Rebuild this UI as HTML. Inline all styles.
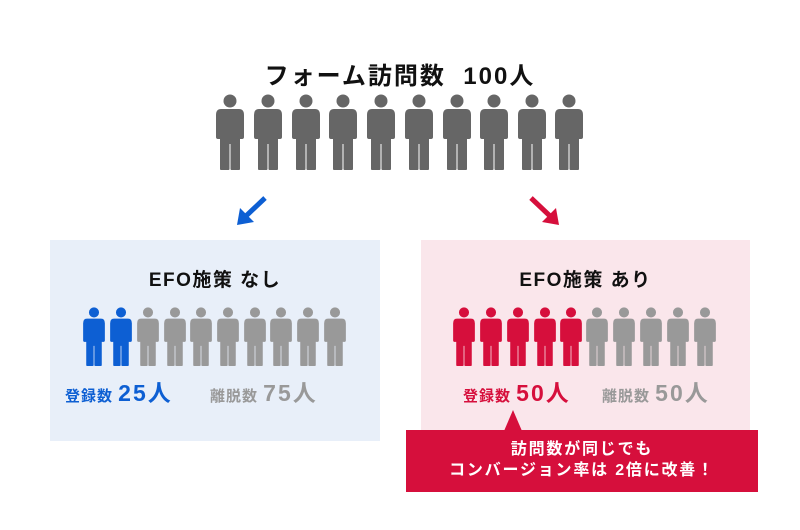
<!DOCTYPE html><html><head><meta charset="utf-8"><style>
body{margin:0;width:800px;height:530px;background:#fff;position:relative;overflow:hidden;font-family:"Liberation Sans","Noto Sans CJK JP",sans-serif;font-weight:bold}
.t{position:absolute;white-space:nowrap}
</style></head><body>
<svg width="800" height="530" style="position:absolute;left:0;top:0">
<defs>
<symbol id="p" viewBox="0 0 28 76">
<circle cx="14" cy="7" r="6.5"/>
<path d="M5 15 H23 Q28 15 28 21 V43 Q28 45 26 45 H24 V75 Q24 76 22.5 76 H16 Q14.5 76 14.5 75 V50 H13.5 V75 Q13.5 76 12 76 H5.5 Q4 76 4 75 V45 H2 Q0 45 0 43 V21 Q0 15 5 15Z"/>
</symbol>
<clipPath id="hl"><rect x="137" y="300" width="11" height="70"/></clipPath>
</defs>
<rect x="50" y="240" width="330" height="201" fill="#e8eff9"/>
<rect x="421" y="240" width="329" height="201" fill="#fae6eb"/>
<g fill="#666">
<use href="#p" x="216" y="94" width="28" height="76"/><use href="#p" x="254" y="94" width="28" height="76"/><use href="#p" x="292" y="94" width="28" height="76"/><use href="#p" x="329" y="94" width="28" height="76"/><use href="#p" x="367" y="94" width="28" height="76"/><use href="#p" x="405" y="94" width="28" height="76"/><use href="#p" x="443" y="94" width="28" height="76"/><use href="#p" x="480" y="94" width="28" height="76"/><use href="#p" x="518" y="94" width="28" height="76"/><use href="#p" x="555" y="94" width="28" height="76"/>
</g>
<g fill="#999">
<use href="#p" x="137" y="307" width="22" height="59"/><use href="#p" x="164" y="307" width="22" height="59"/><use href="#p" x="190" y="307" width="22" height="59"/><use href="#p" x="217" y="307" width="22" height="59"/><use href="#p" x="244" y="307" width="22" height="59"/><use href="#p" x="270" y="307" width="22" height="59"/><use href="#p" x="297" y="307" width="22" height="59"/><use href="#p" x="324" y="307" width="22" height="59"/>
<use href="#p" x="586" y="307" width="22" height="59"/><use href="#p" x="613" y="307" width="22" height="59"/><use href="#p" x="640" y="307" width="22" height="59"/><use href="#p" x="667" y="307" width="22" height="59"/><use href="#p" x="694" y="307" width="22" height="59"/>
</g>
<g fill="#0d5fd3">
<use href="#p" x="83" y="307" width="22" height="59"/><use href="#p" x="110" y="307" width="22" height="59"/><use href="#p" x="137" y="307" width="22" height="59" clip-path="url(#hl)"/>
</g>
<g fill="#d60f3c">
<use href="#p" x="453" y="307" width="22" height="59"/><use href="#p" x="480" y="307" width="22" height="59"/><use href="#p" x="507" y="307" width="22" height="59"/><use href="#p" x="534" y="307" width="22" height="59"/><use href="#p" x="560" y="307" width="22" height="59"/>
</g>
<g stroke="#0d5fd3" stroke-width="5" fill="#0d5fd3"><line x1="265" y1="198" x2="246" y2="216"/><polygon points="237,225 240,208 254,222" stroke="none"/></g>
<g stroke="#d60f3c" stroke-width="5" fill="#d60f3c"><line x1="531" y1="198" x2="550" y2="216"/><polygon points="559,225 556,208 542,222" stroke="none"/></g>
<polygon points="513,410 504,431 522,431" fill="#d60f3c"/>
<rect x="406" y="430" width="352" height="62" fill="#d60f3c"/>
</svg>
<div class="t" style="left:0;width:800px;text-align:center;top:56px;font-size:24px;color:#111;letter-spacing:2px">フォーム訪問数&nbsp;&nbsp;100人</div>
<div class="t" style="left:50px;width:330px;text-align:center;top:265px;font-size:19px;color:#111;letter-spacing:1.5px">EFO施策 なし</div>
<div class="t" style="left:421px;width:329px;text-align:center;top:265px;font-size:19px;color:#111;letter-spacing:1.5px">EFO施策 あり</div>
<div class="t" style="left:65px;top:374px;color:#0d5fd3;font-size:15px;letter-spacing:1px">登録数 <span style="font-size:23px;letter-spacing:2px">25人</span></div>
<div class="t" style="left:210px;top:374px;color:#999;font-size:15px;letter-spacing:1px">離脱数 <span style="font-size:23px;letter-spacing:2px">75人</span></div>
<div class="t" style="left:463px;top:374px;color:#d60f3c;font-size:15px;letter-spacing:1px">登録数 <span style="font-size:23px;letter-spacing:2px">50人</span></div>
<div class="t" style="left:602px;top:374px;color:#999;font-size:15px;letter-spacing:1px">離脱数 <span style="font-size:23px;letter-spacing:2px">50人</span></div>
<div class="t" style="left:406px;width:352px;text-align:center;top:439px;color:#fff;font-size:16px;line-height:21px;letter-spacing:1.8px">訪問数が同じでも<br>コンバージョン率は 2倍に改善！</div>
</body></html>
